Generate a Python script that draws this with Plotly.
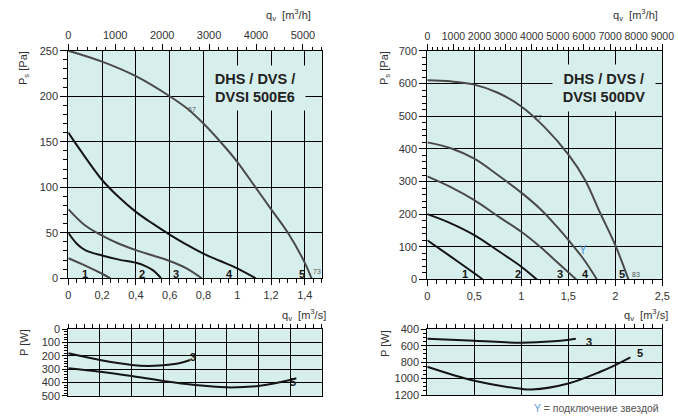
import plotly.graph_objects as go

# ---------------- data: DHS / DVS / DVSI 500E6 (left) ----------------
e6_67_q = [0, 0.2, 0.4, 0.6, 0.7, 0.8, 0.9, 1.0, 1.1, 1.2, 1.3, 1.4, 1.44]
e6_67_p = [250, 238, 222, 200, 187, 170, 150, 128, 102, 76, 50, 17, 0]
e6_4_q = [0, 0.07, 0.2, 0.3, 0.4, 0.5, 0.6, 0.7, 0.8, 0.9, 1.0, 1.11]
e6_4_p = [160, 141, 108, 89, 73, 60, 48, 37, 27, 19, 11, 0]
e6_3_q = [0, 0.1, 0.2, 0.3, 0.4, 0.5, 0.6, 0.7, 0.79]
e6_3_p = [76, 58, 47, 38, 31, 25, 19, 11, 0]
e6_2_q = [0, 0.05, 0.1, 0.2, 0.3, 0.4, 0.45, 0.5, 0.55]
e6_2_p = [50, 38, 31, 25, 20.5, 17, 14, 9, 0]
e6_1_q = [0, 0.1, 0.2, 0.25]
e6_1_p = [22, 14, 5, 0]

e6_pw3_q = [0, 0.2, 0.4, 0.5, 0.6, 0.7, 0.77]
e6_pw3_w = [181, 231, 268, 276, 270, 255, 231]
e6_pw5_q = [0, 0.2, 0.4, 0.6, 0.8, 1.0, 1.06, 1.2, 1.4, 1.44]
e6_pw5_w = [293, 319, 352, 389, 419, 437, 437, 427, 382, 369]

# ---------------- data: DHS / DVS / DVSI 500DV (right) ----------------
dv_77_q = [0, 0.25, 0.5, 0.75, 1.0, 1.25, 1.5, 1.678, 1.837, 2.0, 2.14]
dv_77_p = [610, 607, 597, 572, 530, 466, 383, 305, 205, 105, 0]
dv_4_q = [0, 0.25, 0.5, 0.75, 1.0, 1.213, 1.372, 1.5, 1.656, 1.805]
dv_4_p = [420, 402, 370, 320, 266, 213, 164, 121, 65, 0]
dv_3_q = [0, 0.25, 0.5, 0.77, 1.0, 1.2, 1.4, 1.585]
dv_3_p = [316, 283, 243, 190, 146, 100, 48, 0]
dv_2_q = [0, 0.25, 0.5, 0.773, 1.0, 1.165]
dv_2_p = [200, 172, 136, 84, 39, 0]
dv_1_q = [0, 0.25, 0.5, 0.59]
dv_1_p = [120, 70, 19, 0]

dv_pw3_q = [0, 0.5, 1.0, 1.34, 1.58]
dv_pw3_w = [515, 539, 564, 547, 515]
dv_pw5_q = [0, 0.5, 1.0, 1.11, 1.5, 1.84, 2.0, 2.16]
dv_pw5_w = [856, 1027, 1125, 1133, 1059, 917, 836, 742]

# ---------------- tick labels ----------------
e6_qs_vals = [0, 0.2, 0.4, 0.6, 0.8, 1.0, 1.2, 1.4]
e6_qs_text = ["0", "0,2", "0,4", "0,6", "0,8", "1", "1,2", "1,4"]
dv_qs_vals = [0, 0.5, 1.0, 1.5, 2.0, 2.5]
dv_qs_text = ["0", "0,5", "1", "1,5", "2", "2,5"]
e6_qh_vals = [0, 1000, 2000, 3000, 4000, 5000]
dv_qh_vals = [0, 1000, 2000, 3000, 4000, 5000, 6000, 7000, 8000, 9000]

# curve label positions (x, y, text)
e6_labels = [(0.1, 5, "1"), (0.437, 5, "2"), (0.64, 5, "3"), (0.957, 5, "4"), (1.383, 5, "5")]
dv_labels = [(0.40, 17, "1"), (0.96, 17, "2"), (1.41, 17, "3"), (1.68, 17, "4"), (2.075, 17, "5")]

BG = "#d6eeec"
GREY = "#4a4a4a"
BLACK = "#151515"
TXT = "#333333"
FONT = "Liberation Sans, Arial, sans-serif"

fig = go.Figure()


def add_line(x, y, xa, ya, color):
    fig.add_trace(go.Scatter(x=x, y=y, xaxis=xa, yaxis=ya, mode="lines",
                             line=dict(color=color, width=2, shape="spline", smoothing=1.0),
                             hoverinfo="skip", showlegend=False))


# left top
add_line(e6_67_q, e6_67_p, "x", "y", GREY)
add_line(e6_4_q, e6_4_p, "x", "y", BLACK)
add_line(e6_3_q, e6_3_p, "x", "y", GREY)
add_line(e6_2_q, e6_2_p, "x", "y", BLACK)
add_line(e6_1_q, e6_1_p, "x", "y", GREY)
fig.add_trace(go.Scatter(x=[], y=[], xaxis="x2", yaxis="y", showlegend=False))
# right top
add_line(dv_77_q, dv_77_p, "x3", "y2", GREY)
add_line(dv_4_q, dv_4_p, "x3", "y2", GREY)
add_line(dv_3_q, dv_3_p, "x3", "y2", GREY)
add_line(dv_2_q, dv_2_p, "x3", "y2", BLACK)
add_line(dv_1_q, dv_1_p, "x3", "y2", BLACK)
fig.add_trace(go.Scatter(x=[], y=[], xaxis="x4", yaxis="y2", showlegend=False))
# bottom power
add_line(e6_pw3_q, e6_pw3_w, "x5", "y3", BLACK)
add_line(e6_pw5_q, e6_pw5_w, "x5", "y3", BLACK)
add_line(dv_pw3_q, dv_pw3_w, "x6", "y4", BLACK)
add_line(dv_pw5_q, dv_pw5_w, "x6", "y4", BLACK)

tickfont = dict(family=FONT, size=11, color=TXT)
LD = [68.3 / 678, 321.7 / 678]
RD = [427.3 / 678, 662.3 / 678]


def xax(domain, rng, anchor, side="bottom", **kw):
    d = dict(domain=domain, range=rng, anchor=anchor, side=side, showline=True,
             linecolor="black", linewidth=1, showgrid=True, gridcolor="black", gridwidth=1,
             zeroline=False, ticks="outside", ticklen=6, tickcolor="black",
             tickfont=tickfont, fixedrange=True, automargin=False, tickangle=0)
    d.update(kw)
    return d


def yax(domain, rng, anchor, **kw):
    d = dict(domain=domain, range=rng, anchor=anchor, showline=True, mirror=True,
             linecolor="black", linewidth=1, showgrid=True, gridcolor="black", gridwidth=1,
             zeroline=False, ticks="outside", ticklen=7, tickcolor="black",
             tickfont=tickfont, fixedrange=True, automargin=False)
    d.update(kw)
    return d


fig.update_layout(
    width=678, height=418, autosize=False,
    margin=dict(l=0, r=0, t=0, b=0, autoexpand=False),
    paper_bgcolor="white", plot_bgcolor=BG,
    font=dict(family=FONT, size=11, color=TXT),
    showlegend=False,
    xaxis=xax(LD, [0, 1.5], "y", tickmode="array", tickvals=e6_qs_vals, ticktext=e6_qs_text,
              minor=dict(dtick=0.05, tick0=0, ticks="outside", ticklen=4, tickcolor="black", showgrid=False)),
    xaxis2=xax(LD, [0, 5400], "y", side="top", overlaying="x", showgrid=False,
               tickmode="array", tickvals=e6_qh_vals,
               minor=dict(dtick=200, tick0=0, ticks="outside", ticklen=3, tickcolor="black", showgrid=False)),
    yaxis=yax([0.3342, 0.8787], [0, 250], "x", dtick=50,
              minor=dict(dtick=10, tick0=0, ticks="outside", ticklen=4, tickcolor="black", showgrid=False)),
    xaxis3=xax(RD, [0, 2.5], "y2", tickmode="array", tickvals=dv_qs_vals, ticktext=dv_qs_text,
               minor=dict(dtick=0.1, tick0=0, ticks="outside", ticklen=4, tickcolor="black", showgrid=False)),
    xaxis4=xax(RD, [0, 9000], "y2", side="top", overlaying="x3", showgrid=False,
               tickmode="array", tickvals=dv_qh_vals,
               tickfont=dict(family=FONT, size=10.5, color=TXT),
               minor=dict(dtick=200, tick0=0, ticks="outside", ticklen=3, tickcolor="black", showgrid=False)),
    yaxis2=yax([0.3315, 0.878], [0, 700], "x3", dtick=100,
               minor=dict(dtick=20, tick0=0, ticks="outside", ticklen=4, tickcolor="black", showgrid=False)),
    xaxis5=xax(LD, [0, 1.6], "y3", side="top", mirror=True, dtick=0.2, showticklabels=False, ticklen=4,
               minor=dict(dtick=0.05, tick0=0, ticks="outside", ticklen=4, tickcolor="black", showgrid=False)),
    yaxis3=yax([0.0533, 0.2122], [500, 0], "x5", dtick=100, ticklen=5,
               minor=dict(dtick=20, tick0=0, ticks="outside", ticklen=3, tickcolor="black", showgrid=False)),
    xaxis6=xax(RD, [0, 2.5], "y4", side="top", mirror=True, dtick=0.5, showticklabels=False, ticklen=4,
               minor=dict(dtick=0.1, tick0=0, ticks="outside", ticklen=4, tickcolor="black", showgrid=False)),
    yaxis4=yax([0.055, 0.2122], [1200, 400], "x6", dtick=200, ticklen=5,
               minor=dict(dtick=50, tick0=0, ticks="outside", ticklen=3, tickcolor="black", showgrid=False)),
)

ann = []
lblfont = dict(family=FONT, size=11, color=BLACK)
for (x, y, t) in e6_labels:
    ann.append(dict(x=x, y=y, xref="x", yref="y", text="<b>%s</b>" % t, showarrow=False, font=lblfont))
for (x, y, t) in dv_labels:
    ann.append(dict(x=x, y=y, xref="x3", yref="y2", text="<b>%s</b>" % t, showarrow=False, font=lblfont))
small = dict(family=FONT, size=7, color="#555555")
ann += [
    dict(x=0.732, y=185, xref="x", yref="y", text="67", showarrow=False, font=small),
    dict(x=1.47, y=8, xref="x", yref="y", text="73", showarrow=False, font=small),
    dict(x=1.18, y=497, xref="x3", yref="y2", text="77", showarrow=False, font=small),
    dict(x=2.22, y=14, xref="x3", yref="y2", text="83", showarrow=False, font=small),
    dict(x=1.66, y=90, xref="x3", yref="y2", text="Y", showarrow=False,
         font=dict(family=FONT, size=12, color="#5b9bd5")),
    # model boxes
    dict(x=1.107, y=209, xref="x", yref="y", text="<b>DHS / DVS /<br>DVSI 500E6</b>",
         showarrow=False, bgcolor=BG, width=98, height=42, align="center",
         font=dict(family=FONT, size=14.5, color="#222222")),
    dict(x=1.88, y=586, xref="x3", yref="y2", text="<b>DHS / DVS /<br>DVSI 500DV</b>",
         showarrow=False, bgcolor=BG, width=100, height=44, align="center",
         font=dict(family=FONT, size=14.5, color="#222222")),
    # power curve labels
    dict(x=0.785, y=206, xref="x5", yref="y3", text="<b>3</b>", showarrow=False, font=lblfont),
    dict(x=1.42, y=395, xref="x5", yref="y3", text="<b>5</b>", showarrow=False, font=lblfont),
    dict(x=1.72, y=551, xref="x6", yref="y4", text="<b>3</b>", showarrow=False, font=lblfont),
    dict(x=2.26, y=685, xref="x6", yref="y4", text="<b>5</b>", showarrow=False, font=lblfont),
]

tf = dict(family=FONT, size=11, color=TXT)
# axis titles (paper coords)
ann += [
    dict(x=313 / 678, y=1 - 15 / 418, xref="paper", yref="paper", xanchor="right", yanchor="middle",
         text="q<sub>v</sub>  [m<sup>3</sup>/h]", showarrow=False, font=tf),
    dict(x=660 / 678, y=1 - 15 / 418, xref="paper", yref="paper", xanchor="right", yanchor="middle",
         text="q<sub>v</sub>  [m<sup>3</sup>/h]", showarrow=False, font=tf),
    dict(x=328 / 678, y=1 - 315 / 418, xref="paper", yref="paper", xanchor="right", yanchor="middle",
         text="q<sub>v</sub>  [m<sup>3</sup>/s]", showarrow=False, font=tf),
    dict(x=670 / 678, y=1 - 315 / 418, xref="paper", yref="paper", xanchor="right", yanchor="middle",
         text="q<sub>v</sub>  [m<sup>3</sup>/s]", showarrow=False, font=tf),
    dict(x=24 / 678, y=1 - 68 / 418, xref="paper", yref="paper", xanchor="center", yanchor="middle",
         text="P<sub>s</sub> [Pa]", textangle=-90, showarrow=False, font=tf),
    dict(x=385 / 678, y=1 - 68 / 418, xref="paper", yref="paper", xanchor="center", yanchor="middle",
         text="P<sub>s</sub> [Pa]", textangle=-90, showarrow=False, font=tf),
    dict(x=24 / 678, y=1 - 343 / 418, xref="paper", yref="paper", xanchor="center", yanchor="middle",
         text="P [W]", textangle=-90, showarrow=False, font=tf),
    dict(x=385 / 678, y=1 - 343 / 418, xref="paper", yref="paper", xanchor="center", yanchor="middle",
         text="P [W]", textangle=-90, showarrow=False, font=tf),
    dict(x=661 / 678, y=1 - 408 / 418, xref="paper", yref="paper", xanchor="right", yanchor="middle",
         text="<span style='color:#5b9bd5'>Y</span> = подключение звездой", showarrow=False,
         font=dict(family=FONT, size=10.5, color="#555555")),
]
fig.update_layout(annotations=ann)

fig.write_html("out.html")
